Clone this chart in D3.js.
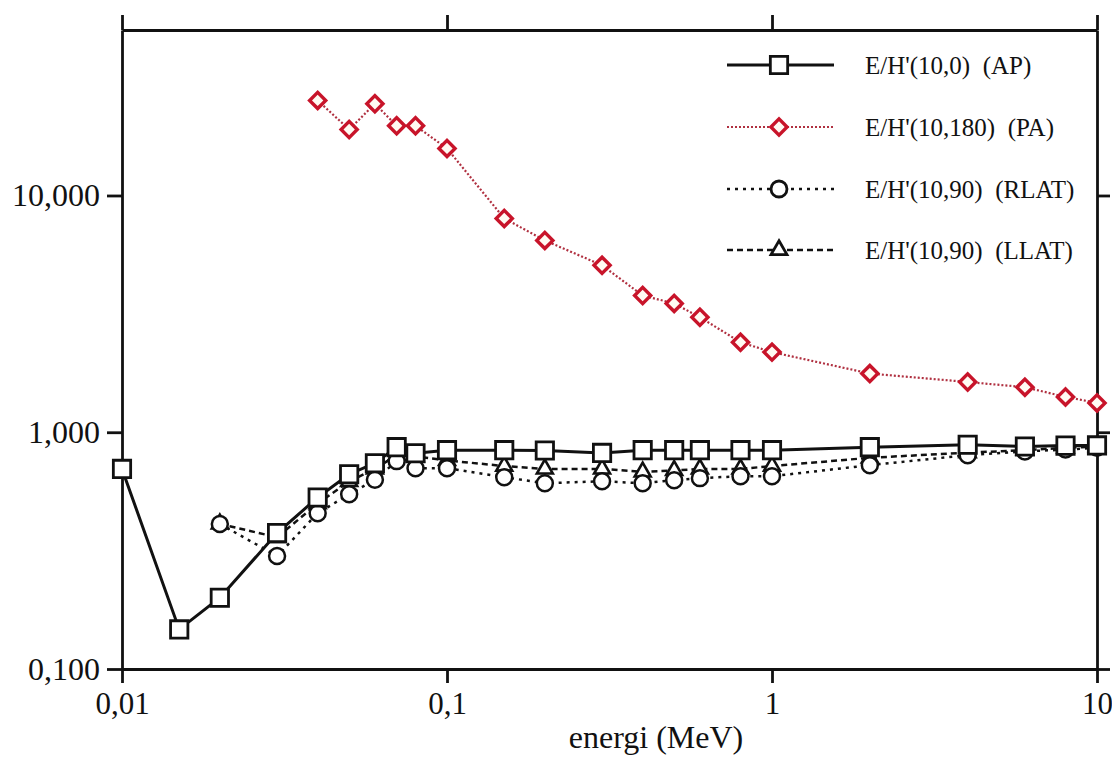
<!DOCTYPE html>
<html>
<head>
<meta charset="utf-8">
<script src="https://cdn.jsdelivr.net/npm/d3@7"></script>
<style>
  html, body { margin: 0; padding: 0; background: #ffffff; }
  svg { display: block; }
  text { font-family: "Liberation Serif", "Times New Roman", serif; fill: #111; }
</style>
</head>
<body>
<svg id="chart" width="1112" height="757"></svg>
<script>
// ---------- data ----------
const xTickValues = [0.01, 0.1, 1, 10];
const xTickLabels = ["0,01", "0,1", "1", "10"];
const yTickValues = [0.1, 1, 10];
const yTickLabels = ["0,100", "1,000", "10,000"];
const xAxisTitle = "energi (MeV)";

const energyAP = [0.01, 0.015, 0.02, 0.03, 0.04, 0.05, 0.06, 0.07, 0.08, 0.1, 0.15, 0.2, 0.3, 0.4, 0.5, 0.6, 0.8, 1, 2, 4, 6, 8, 10];
const valuesAP = [0.70, 0.147, 0.20, 0.375, 0.53, 0.665, 0.74, 0.865, 0.815, 0.84, 0.84, 0.837, 0.818, 0.84, 0.84, 0.84, 0.84, 0.84, 0.865, 0.885, 0.87, 0.878, 0.88];

const energyPA = [0.04, 0.05, 0.06, 0.07, 0.08, 0.1, 0.15, 0.2, 0.3, 0.4, 0.5, 0.6, 0.8, 1, 2, 4, 6, 8, 10];
const valuesPA = [25.2, 19.0, 24.4, 19.7, 19.7, 15.8, 8.0, 6.46, 5.07, 3.78, 3.50, 3.06, 2.40, 2.18, 1.77, 1.63, 1.55, 1.41, 1.33];

const energyLAT = [0.02, 0.03, 0.04, 0.05, 0.06, 0.07, 0.08, 0.1, 0.15, 0.2, 0.3, 0.4, 0.5, 0.6, 0.8, 1, 2, 4, 6, 8, 10];
const valuesRLAT = [0.41, 0.30, 0.455, 0.547, 0.63, 0.755, 0.705, 0.705, 0.646, 0.609, 0.621, 0.609, 0.627, 0.64, 0.652, 0.652, 0.726, 0.80, 0.83, 0.845, 0.86];
const valuesLLAT = [0.41, 0.36, 0.50, 0.62, 0.70, 0.80, 0.79, 0.76, 0.72, 0.70, 0.70, 0.68, 0.69, 0.70, 0.70, 0.72, 0.78, 0.82, 0.84, 0.86, 0.87];

const legendLabels = ["E/H'(10,0)  (AP)", "E/H'(10,180)  (PA)", "E/H'(10,90)  (RLAT)", "E/H'(10,90)  (LLAT)"];

// ---------- layout ----------
const svg = d3.select("#chart");
const L = 122, R = 1097, T = 30, B = 669;
const x = d3.scaleLog().domain([0.01, 10]).range([L, R]);
const y = d3.scaleLog().domain([0.1, 50]).range([B, T]);

const RED = "#c8142a";
const RED_LINE = "#b03040";

// ---------- axes ----------
const axW = 2.8;
function styleAxis(g) {
  g.selectAll("path.domain").attr("stroke", "#111").attr("stroke-width", axW);
  g.selectAll(".tick line").attr("stroke", "#111").attr("stroke-width", axW);
}

const gBottom = svg.append("g").attr("transform", `translate(0,${B})`)
  .call(d3.axisBottom(x).tickValues(xTickValues)
    .tickFormat((d, i) => xTickLabels[i]).tickSize(14).tickSizeOuter(0).tickPadding(9));
styleAxis(gBottom);
gBottom.selectAll(".tick text").attr("font-size", 31).attr("fill", "#111");

const gTop = svg.append("g").attr("transform", `translate(0,${T})`)
  .call(d3.axisTop(x).tickValues(xTickValues).tickFormat("").tickSize(15).tickSizeOuter(0));
styleAxis(gTop);

const gLeft = svg.append("g").attr("transform", `translate(${L},0)`)
  .call(d3.axisLeft(y).tickValues(yTickValues)
    .tickFormat((d, i) => yTickLabels[i]).tickSize(15).tickSizeOuter(0).tickPadding(7));
styleAxis(gLeft);
gLeft.selectAll(".tick text").attr("font-size", 32).attr("fill", "#111");

const gRight = svg.append("g").attr("transform", `translate(${R},0)`)
  .call(d3.axisRight(y).tickValues(yTickValues).tickFormat("").tickSize(13).tickSizeOuter(0));
styleAxis(gRight);

svg.append("text").attr("x", 656).attr("y", 748).attr("text-anchor", "middle")
  .attr("font-size", 32).text(xAxisTitle);

// ---------- series ----------
const line = d3.line().x(d => x(d[0])).y(d => y(d[1]));
const zip = (a, b) => a.map((v, i) => [v, b[i]]);

const dataAP = zip(energyAP, valuesAP);
const dataPA = zip(energyPA, valuesPA);
const dataR = zip(energyLAT, valuesRLAT);
const dataLL = zip(energyLAT, valuesLLAT);

const sym = {
  square: d3.symbol().type(d3.symbolSquare).size(300),
  diamond: d3.symbol().type(d3.symbolSquare).size(130),
  circle: d3.symbol().type(d3.symbolCircle).size(200),
  triangle: d3.symbol().type(d3.symbolTriangle).size(110)
};

// PA
svg.append("path").datum(dataPA).attr("d", line).attr("fill", "none")
  .attr("stroke", RED_LINE).attr("stroke-width", 2.2).attr("stroke-dasharray", "2,2");
svg.append("g").selectAll("path").data(dataPA).join("path")
  .attr("d", sym.diamond)
  .attr("transform", d => `translate(${x(d[0])},${y(d[1])}) rotate(45)`)
  .attr("fill", "#fffaf2").attr("stroke", RED).attr("stroke-width", 3.4);

// RLAT (dotted, circles)
svg.append("path").datum(dataR).attr("d", line).attr("fill", "none")
  .attr("stroke", "#111").attr("stroke-width", 2.5).attr("stroke-dasharray", "3,5");
// LLAT (dashed, triangles)
svg.append("path").datum(dataLL).attr("d", line).attr("fill", "none")
  .attr("stroke", "#111").attr("stroke-width", 2.5).attr("stroke-dasharray", "6,4");
svg.append("g").selectAll("path").data(dataLL).join("path")
  .attr("d", sym.triangle)
  .attr("transform", d => `translate(${x(d[0])},${y(d[1])})`)
  .attr("fill", "#fff").attr("stroke", "#111").attr("stroke-width", 2.6);
svg.append("g").selectAll("path").data(dataR).join("path")
  .attr("d", sym.circle)
  .attr("transform", d => `translate(${x(d[0])},${y(d[1])})`)
  .attr("fill", "#fff").attr("stroke", "#111").attr("stroke-width", 2.5);

// AP (solid, squares)
svg.append("path").datum(dataAP).attr("d", line).attr("fill", "none")
  .attr("stroke", "#111").attr("stroke-width", 3);
svg.append("g").selectAll("path").data(dataAP).join("path")
  .attr("d", sym.square)
  .attr("transform", d => `translate(${x(d[0])},${y(d[1])})`)
  .attr("fill", "#fff").attr("stroke", "#111").attr("stroke-width", 2.8);

// ---------- legend ----------
const legendRows = [65, 127, 189, 250];
const legStyles = [
  { stroke: "#111", dash: null, w: 2.8, sym: sym.square, rot: 0, mStroke: "#111", fill: "#fff" },
  { stroke: RED_LINE, dash: "2,2", w: 2.2, sym: sym.diamond, rot: 45, mStroke: RED, fill: "#fffaf2" },
  { stroke: "#111", dash: "3,5", w: 2.5, sym: sym.circle, rot: 0, mStroke: "#111", fill: "#fff" },
  { stroke: "#111", dash: "6,4", w: 2.5, sym: sym.triangle, rot: 0, mStroke: "#111", fill: "#fff" }
];
const lg = svg.append("g");
legendLabels.forEach((lab, i) => {
  const s = legStyles[i], yy = legendRows[i];
  lg.append("line").attr("x1", 727).attr("x2", 834).attr("y1", yy).attr("y2", yy)
    .attr("stroke", s.stroke).attr("stroke-width", s.w)
    .attr("stroke-dasharray", s.dash);
  lg.append("path").attr("d", s.sym)
    .attr("transform", `translate(779,${yy}) rotate(${s.rot})`)
    .attr("fill", s.fill).attr("stroke", s.mStroke).attr("stroke-width", i === 1 ? 3.4 : 2.8);
  lg.append("text").attr("x", 865).attr("y", yy).attr("dy", "0.34em")
    .attr("font-size", 25).style("white-space", "pre").text(lab);
});
</script>
</body>
</html>
